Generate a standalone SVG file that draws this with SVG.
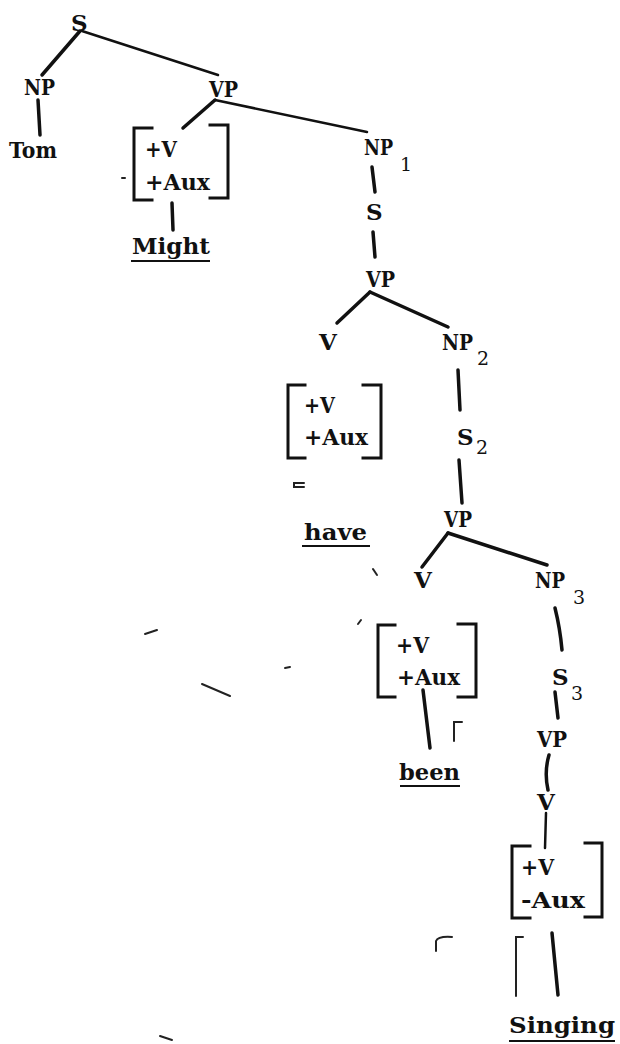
<svg xmlns="http://www.w3.org/2000/svg" width="620" height="1044" viewBox="0 0 620 1044">
<style>
text{font-family:"DejaVu Serif","Liberation Serif",serif;font-weight:bold;font-size:23px;fill:#111}
.sub{font-size:19px;font-weight:normal}
.e{stroke:#111;stroke-width:3.5;stroke-linecap:round;fill:none}
.t{stroke-width:2.5}
.br{stroke:#111;stroke-width:3;fill:none;stroke-linecap:square}
.ul{stroke:#111;stroke-width:2;fill:none}
.m{stroke:#222;stroke-width:2;fill:none;stroke-linecap:round}
</style>
<rect width="620" height="1044" fill="#fff"/>
<g id="connectors">
<path class="e" d="M80 31L42 75"/>
<path class="e t" d="M82 31L218 75"/>
<path class="e" d="M38 100L40 135"/>
<path class="e" d="M215 100L183 128"/>
<path class="e t" d="M215 100L367 132"/>
<path class="e" d="M172 203L173 230"/>
<path class="e" d="M372 167L375 192"/>
<path class="e" d="M373 232L375 257"/>
<path class="e" d="M370 292L337 323"/>
<path class="e" d="M370 292L448 327"/>
<path class="e" d="M458 370L460 410"/>
<path class="e" d="M459 460L462 503"/>
<path class="e" d="M448 533L422 567"/>
<path class="e" d="M448 533L547 565"/>
<path class="e" d="M555 608Q560 628 562 650"/>
<path class="e" d="M423 690L430 748"/>
<path class="e" d="M555 692L558 718"/>
<path class="e" d="M549 755Q544 772 548 790"/>
<path class="e t" d="M546 813L545 848"/>
<path class="e" d="M552 933L558 995"/>
</g>
<g id="n-S"><text x="71" y="31">S</text></g>
<g id="n-NP"><text x="24" y="95" textLength="31" lengthAdjust="spacingAndGlyphs">NP</text></g>
<g id="n-VP"><text x="209" y="97" textLength="29" lengthAdjust="spacingAndGlyphs">VP</text></g>
<g id="n-Tom"><text x="9" y="158" textLength="48" lengthAdjust="spacingAndGlyphs">Tom</text></g>
<g id="n-feat1">
<path class="br" d="M152 128H134V200H152M210 125H228V198H210"/>
<text x="145" y="157" textLength="32" lengthAdjust="spacingAndGlyphs">+V</text><text x="145" y="190" textLength="65" lengthAdjust="spacingAndGlyphs">+Aux</text>
</g>
<g id="n-Might"><text x="132" y="254" textLength="78" lengthAdjust="spacingAndGlyphs">Might</text><path class="ul" d="M131 261H210"/></g>
<g id="n-NP1"><text x="364" y="155" textLength="29" lengthAdjust="spacingAndGlyphs">NP</text><text class="sub" x="400" y="171">1</text></g>
<g id="n-S1"><text x="366" y="220">S</text></g>
<g id="n-VP1"><text x="366" y="287" textLength="29" lengthAdjust="spacingAndGlyphs">VP</text></g>
<g id="n-V1"><text x="319" y="350">V</text></g>
<g id="n-NP2"><text x="442" y="350" textLength="31" lengthAdjust="spacingAndGlyphs">NP</text><text class="sub" x="477" y="365">2</text></g>
<g id="n-feat2">
<path class="br" d="M305 385H288V458H305M363 385H381V458H363"/>
<text x="304" y="413" textLength="31" lengthAdjust="spacingAndGlyphs">+V</text><text x="304" y="445" textLength="64" lengthAdjust="spacingAndGlyphs">+Aux</text>
</g>
<g id="n-have"><text x="304" y="540" textLength="63" lengthAdjust="spacingAndGlyphs">have</text><path class="ul" d="M302 546H370"/></g>
<g id="n-S2"><text x="457" y="445">S</text><text class="sub" x="476" y="454">2</text></g>
<g id="n-VP2"><text x="444" y="527" textLength="28" lengthAdjust="spacingAndGlyphs">VP</text></g>
<g id="n-V2"><text x="414" y="588">V</text></g>
<g id="n-NP3"><text x="535" y="588" textLength="30" lengthAdjust="spacingAndGlyphs">NP</text><text class="sub" x="573" y="604">3</text></g>
<g id="n-feat3">
<path class="br" d="M395 625H378V697H395M458 624H476V697H458"/>
<text x="396" y="653" textLength="33" lengthAdjust="spacingAndGlyphs">+V</text><text x="397" y="685" textLength="63" lengthAdjust="spacingAndGlyphs">+Aux</text>
</g>
<g id="n-been"><text x="399" y="780" textLength="61" lengthAdjust="spacingAndGlyphs">been</text><path class="ul" d="M400 786H460"/></g>
<g id="n-S3"><text x="552" y="685">S</text><text class="sub" x="571" y="700">3</text></g>
<g id="n-VP3"><text x="537" y="747" textLength="30" lengthAdjust="spacingAndGlyphs">VP</text></g>
<g id="n-V3"><text x="537" y="810">V</text></g>
<g id="n-feat4">
<path class="br" d="M530 846H512V918H530M585 843H602V917H585"/>
<text x="521" y="875" textLength="33" lengthAdjust="spacingAndGlyphs">+V</text><text x="521" y="908" textLength="64" lengthAdjust="spacingAndGlyphs">-Aux</text>
</g>
<g id="n-Singing"><text x="509" y="1033" textLength="106" lengthAdjust="spacingAndGlyphs">Singing</text><path class="ul" d="M509 1041H615"/></g>
<g id="scan-marks">
<path class="m" d="M304 483H294V487H304"/>
<path class="m" d="M454 741V722H462"/>
<path class="m" d="M516 996V937H523"/>
<path class="m" d="M436 951V941Q438 936 452 937"/>
<path class="m" d="M122 178H125"/>
<path class="m" d="M373 569L377 575"/>
<path class="m" d="M358 624L361 620"/>
<path class="m" d="M145 634L157 630"/>
<path class="m" d="M202 684L230 696"/>
<path class="m" d="M285 668L290 667"/>
<path class="m" d="M160 1036L172 1040"/>
</g>
</svg>
